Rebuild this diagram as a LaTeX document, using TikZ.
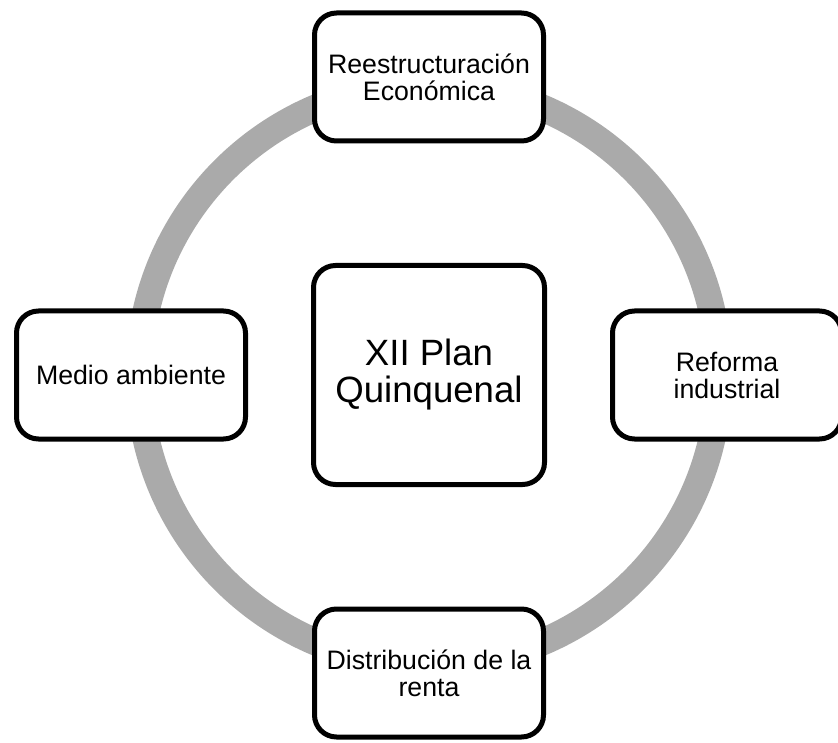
\documentclass[tikz,border=0pt]{standalone}
\usepackage{fontspec}
\setmainfont{Liberation Sans}
\definecolor{ringgray}{RGB}{170,170,170}
\tikzset{
  itembox/.style={draw=black, fill=white, line width=5pt, rounded corners=22pt,
    minimum width=229pt, minimum height=128pt, inner sep=0pt, align=center,
    font=\fontsize{26.7pt}{27pt}\selectfont},
  mainbox/.style={itembox, minimum width=231pt, minimum height=219pt,
    font=\fontsize{36.6pt}{37pt}\selectfont}
}
\begin{document}
\begin{tikzpicture}[x=1pt,y=-1pt]
\useasboundingbox (0,0) rectangle (838,743);

\def\cx{429} % centre of the ring
\def\cy{375}
\def\r{290} % ring radius
\def\d{298} % offset of the outer boxes

\draw[ringgray, line width=27pt] (\cx, \cy) circle (\r);

\node[mainbox] (plan) at (\cx, \cy) {XII Plan\\Quinquenal};

\node[itembox] (eco) at (\cx, \cy-\d) {Reestructuración\\Económica};
\node[itembox] (ind) at (\cx+\d, \cy) {Reforma\\industrial};
\node[itembox] (renta) at (\cx, \cy+\d) {Distribución de la\\renta};
\node[itembox] (amb) at (\cx-\d, \cy) {Medio ambiente};

\end{tikzpicture}
\end{document}
